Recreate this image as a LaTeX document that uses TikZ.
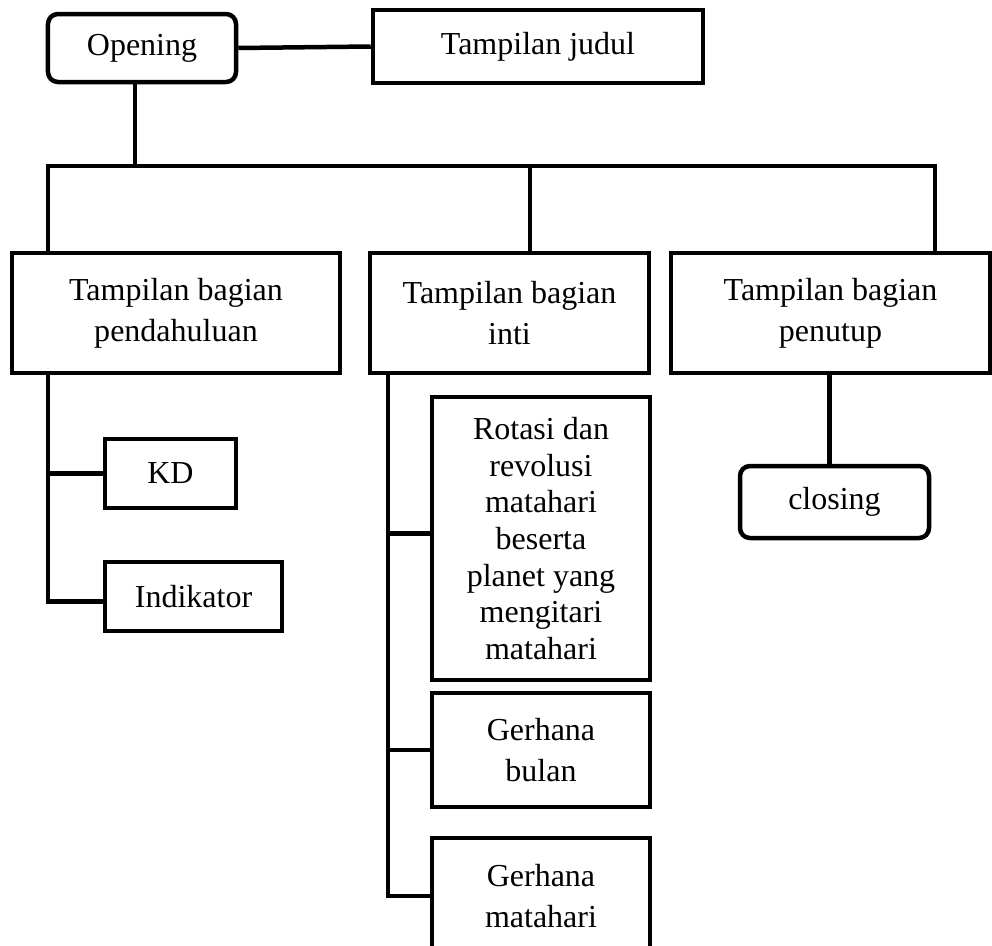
\documentclass[tikz,border=0pt]{standalone}
\usepackage{fontspec}
\setmainfont{Liberation Serif}
\begin{document}
\begin{tikzpicture}[x=1bp,y=-1bp,
  lw/.style={line width=4.5bp},
  box/.style={draw,lw,inner sep=0pt,align=center,
    font=\fontsize{32bp}{41bp}\selectfont},
  rbox/.style={box,rounded corners=10bp},
  conn/.style={lw,line join=miter}]
\useasboundingbox (0,0) rectangle (992,946);
% nodes
\node[rbox,minimum width=188bp,minimum height=68bp] (open) at (142,48) {Opening};
\node[box,minimum width=330bp,minimum height=73bp] (judul) at (538,46.5) {Tampilan judul};
\node[box,minimum width=328bp,minimum height=120bp] (pend) at (176,313) {Tampilan bagian\\pendahuluan};
\node[box,minimum width=279bp,minimum height=120bp] (inti) at (509.5,313) {Tampilan bagian\\inti};
\node[box,minimum width=319bp,minimum height=120bp] (penutup) at (830.5,313) {Tampilan bagian\\penutup};
\node[box,minimum width=131bp,minimum height=69bp] (kd) at (170.5,473.5) {KD};
\node[box,minimum width=177bp,minimum height=69bp] (ind) at (193.5,596.5) {Indikator};
\node[box,minimum width=218bp,minimum height=283bp,
  font=\fontsize{32bp}{36.7bp}\selectfont] (rot) at (541,538.5) {Rotasi dan\\revolusi\\matahari\\beserta\\planet yang\\mengitari\\matahari};
\node[box,minimum width=218bp,minimum height=114bp] (bul) at (541,750) {Gerhana\\bulan};
\node[box,minimum width=218bp,minimum height=116bp] (gm) at (541,896) {Gerhana\\matahari};
\node[rbox,minimum width=189bp,minimum height=72bp] (clos) at (834.5,502) {closing};
% coordinates
\coordinate (t1) at (135,166);
\coordinate (b1) at (48,166);
\coordinate (b2) at (530,166);
\coordinate (b3) at (935,166);
\coordinate (c1) at (388,373);
\coordinate (rb) at ([yshift=5bp]rot.west);
\coordinate (ib) at ([yshift=-5bp]ind.west);
\coordinate (cb) at ([xshift=-5bp]clos.north);
% connectors
\draw[conn] (open.east) -- (judul.west);
\draw[conn] (t1 |- open.south) -- (t1);
\draw[conn] (b1 |- pend.north) -- (b1) -- (b3) -- (b3 |- penutup.north);
\draw[conn] (b2) -- (b2 |- inti.north);
\draw[conn] (b1 |- pend.south) |- (ib);
\draw[conn] (b1 |- kd.west) -- (kd.west);
\draw[conn] (c1 |- inti.south) |- (gm.west);
\draw[conn] (c1 |- bul.west) -- (bul.west);
\draw[conn] (c1 |- rb) -- (rb);
\draw[conn] (cb) -- (cb |- penutup.south);
\end{tikzpicture}
\end{document}
